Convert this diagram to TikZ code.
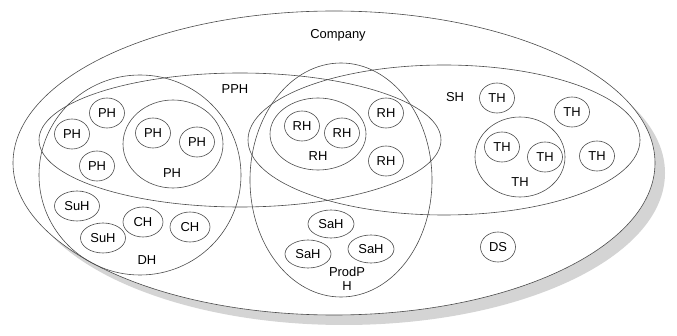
\documentclass[tikz,border=0pt]{standalone}
\usepackage{fontspec}
\setmainfont{Liberation Sans}
\usetikzlibrary{shapes.geometric}
\begin{document}
\begin{tikzpicture}[every node/.style={font=\fontsize{13}{14}\selectfont},
  hub/.style={draw=black!70,line width=0.6bp,ellipse,inner sep=0pt,minimum width=35bp,minimum height=30bp},
  group/.style={draw=black!70,line width=0.6bp,ellipse,inner sep=0pt}]
  \useasboundingbox (0bp,0bp) rectangle (677bp,336bp);
  % outer company with its shadow
  \node (shadow) at (344bp,163bp) [ellipse,fill=black!17,minimum width=642bp,minimum height=304bp] {};
  \node (Company) at (334bp,173bp) [group,fill=white,minimum width=642bp,minimum height=304bp] {};
  \node (CompanyL) at (338bp,301bp) {Company};
  % groups
  \node (PPH) at (240bp,196bp) [group,minimum width=402bp,minimum height=134bp] {};
  \node (SH) at (444bp,196bp) [group,minimum width=392bp,minimum height=150bp] {};
  \node (DH) at (140bp,161bp) [group,minimum width=202bp,minimum height=200bp] {};
  \node (PHg) at (173bp,192bp) [group,minimum width=100bp,minimum height=88bp] {};
  \node (ProdPH) at (341bp,156bp) [group,minimum width=182bp,minimum height=234bp] {};
  \node (RHg) at (318bp,202bp) [group,minimum width=96bp,minimum height=72bp] {};
  \node (THg) at (520bp,179bp) [group,minimum width=90bp,minimum height=80bp] {};
  % labels of groups
  \node (PPHL) at (235bp,247bp) {PPH};
  \node (PHL) at (172bp,163bp) {PH};
  \node (DHL) at (147bp,76bp) {DH};
  \node (RHL) at (318bp,180bp) {RH};
  \node (ProdPHL) at (347bp,57bp) [align=center,inner sep=0pt] {ProdP\\H};
  \node (SHL) at (455bp,239bp) {SH};
  \node (THL) at (520bp,154bp) {TH};
  % members
  \node (PH1) at (107bp,223bp) [hub] {PH};
  \node (PH2) at (72bp,202bp) [hub] {PH};
  \node (PH3) at (97bp,170bp) [hub] {PH};
  \node (PH4) at (153bp,203bp) [hub] {PH};
  \node (PH5) at (197bp,194bp) [hub] {PH};
  \node (SuH1) at (77bp,130bp) [hub,minimum width=45bp] {SuH};
  \node (SuH2) at (103bp,98bp) [hub,minimum width=45bp] {SuH};
  \node (CH1) at (143bp,114bp) [hub,minimum width=40bp] {CH};
  \node (CH2) at (190bp,109bp) [hub,minimum width=40bp] {CH};
  \node (RH1) at (302bp,210bp) [hub] {RH};
  \node (RH2) at (342bp,203bp) [hub] {RH};
  \node (RH3) at (386bp,223bp) [hub] {RH};
  \node (RH4) at (386bp,175bp) [hub] {RH};
  \node (SaH1) at (331bp,112bp) [hub,minimum width=46bp,minimum height=28bp] {SaH};
  \node (SaH2) at (308bp,82bp) [hub,minimum width=46bp,minimum height=28bp] {SaH};
  \node (SaH3) at (371bp,87bp) [hub,minimum width=46bp,minimum height=28bp] {SaH};
  \node (TH1) at (497bp,238bp) [hub] {TH};
  \node (TH2) at (572bp,224bp) [hub] {TH};
  \node (TH3) at (502bp,189bp) [hub] {TH};
  \node (TH4) at (545bp,179bp) [hub] {TH};
  \node (TH5) at (597bp,180bp) [hub] {TH};
  \node (DS) at (498bp,89bp) [hub] {DS};
\end{tikzpicture}
\end{document}
